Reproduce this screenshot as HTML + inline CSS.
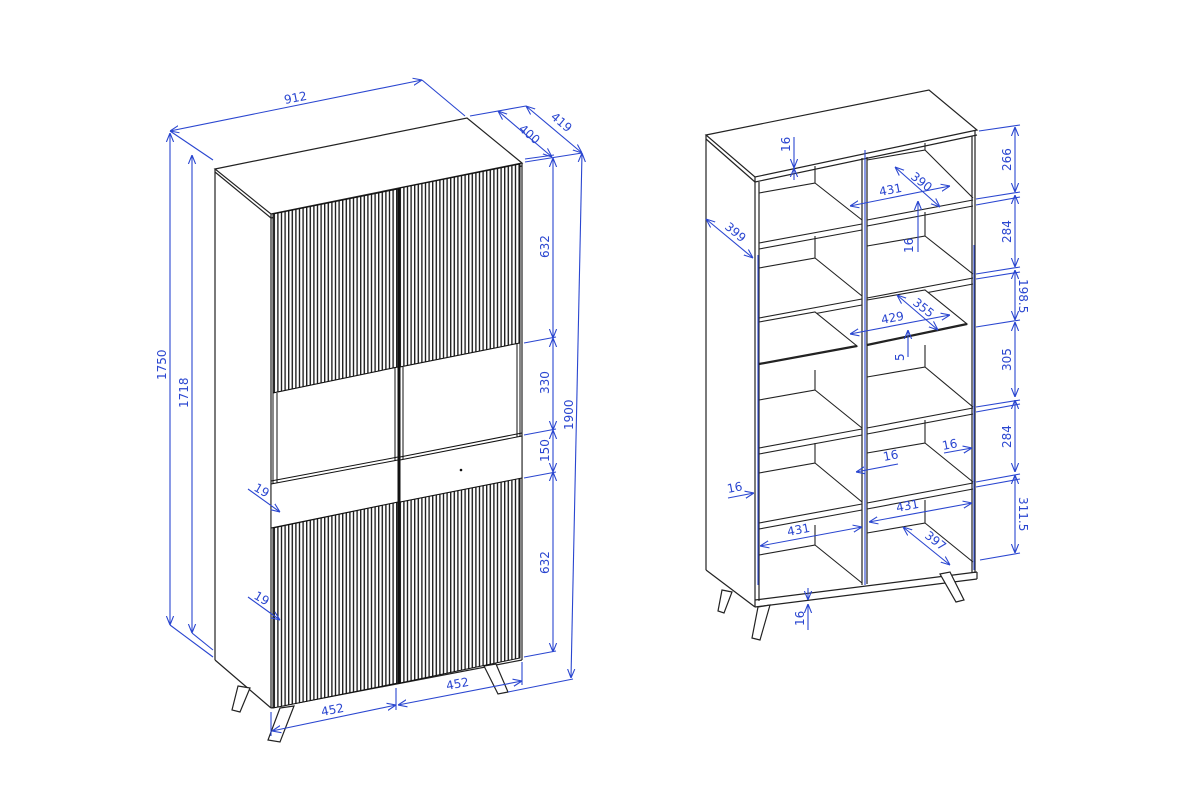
<!DOCTYPE html>
<html><head><meta charset="utf-8"><style>
html,body{margin:0;padding:0;background:#fff;width:1200px;height:792px;overflow:hidden}
svg text{font-family:"DejaVu Sans","Liberation Sans",sans-serif;font-size:12px;fill:#2a46d0}
</style></head><body>
<svg width="1200" height="792" viewBox="0 0 1200 792" xmlns="http://www.w3.org/2000/svg">
<defs>
<pattern id="fl" width="3.6" height="10" patternUnits="userSpaceOnUse">
<rect width="3.6" height="10" fill="#fff"/><rect x="0" width="1.4" height="10" fill="#222"/>
</pattern>
<marker id="a" viewBox="0 0 10 10" refX="10" refY="5" markerWidth="9" markerHeight="9" orient="auto-start-reverse" markerUnits="userSpaceOnUse">
<path d="M0,1 L10,5 L0,9" fill="none" stroke="#2a46d0" stroke-width="1.2"/></marker>
</defs>

<!-- LEFT CABINET -->
<g stroke="#222" stroke-width="1.2" fill="none">
<polygon points="215,169 467,118 522,163 271,214" fill="#fff"/>
<line x1="215" y1="172" x2="271" y2="218"/>
<line x1="271" y1="218" x2="522" y2="166"/>
<line x1="215" y1="169" x2="215" y2="660"/>
<line x1="215" y1="660" x2="271" y2="708"/>
<line x1="271" y1="214" x2="271" y2="708"/>
<line x1="522" y1="163" x2="522" y2="660"/>
<line x1="271" y1="708" x2="522" y2="660"/>
<polygon points="238,686 250,688 240,712 232,710" fill="#fff"/>
<polygon points="280,708 294,706 280,742 268,740" fill="#fff"/>
<polygon points="484,666 496,664 508,692 498,694" fill="#fff"/>
</g>
<g stroke="#111" stroke-width="1">
<polygon points="273,214 398,189 398,367 273,393" fill="url(#fl)"/>
<polygon points="400,188 520,164 520,343 400,367" fill="url(#fl)"/>
<polygon points="273,528 398,502 398,683 273,708" fill="url(#fl)"/>
<polygon points="400,502 520,478 520,658 400,683" fill="url(#fl)"/>
<polygon points="273,393 398,367 398,462 273,484" fill="#fff"/>
<polygon points="400,367 520,343 520,437 400,462" fill="#fff"/>
<line x1="277" y1="393" x2="277" y2="484"/><line x1="395" y1="368" x2="395" y2="462"/>
<line x1="403" y1="367" x2="403" y2="462"/><line x1="517" y1="344" x2="517" y2="437"/>
<polygon points="271,484 398,460 398,502 271,528" fill="#fff"/>
<polygon points="400,460 522,436 522,478 400,502" fill="#fff"/>
<line x1="271" y1="481" x2="398" y2="457"/><line x1="400" y1="457" x2="522" y2="433"/>
<line x1="399" y1="188" x2="399" y2="684" stroke-width="2"/>
</g>
<circle cx="461" cy="470" r="1.3" fill="#111"/>

<g stroke="#2a46d0" stroke-width="1.1" fill="none">
<line x1="170" y1="131" x2="422" y2="80" marker-start="url(#a)" marker-end="url(#a)"/>
<line x1="170" y1="131" x2="213" y2="160"/><line x1="422" y1="80" x2="465" y2="116"/>
<line x1="470" y1="116" x2="526" y2="106"/>
<line x1="498" y1="111" x2="552" y2="157" marker-start="url(#a)" marker-end="url(#a)"/>
<line x1="526" y1="106" x2="582" y2="153" marker-start="url(#a)" marker-end="url(#a)"/>
<line x1="525" y1="162" x2="582" y2="153"/><line x1="525" y1="159" x2="554" y2="155"/>
<line x1="170" y1="133" x2="170" y2="625" marker-start="url(#a)" marker-end="url(#a)"/>
<line x1="170" y1="625" x2="213" y2="657"/>
<line x1="192" y1="155" x2="192" y2="633" marker-start="url(#a)" marker-end="url(#a)"/>
<line x1="192" y1="633" x2="213" y2="650"/>
<line x1="553" y1="158" x2="553" y2="338" marker-start="url(#a)" marker-end="url(#a)"/>
<line x1="553" y1="338" x2="553" y2="430" marker-start="url(#a)" marker-end="url(#a)"/>
<line x1="553" y1="430" x2="553" y2="472" marker-start="url(#a)" marker-end="url(#a)"/>
<line x1="553" y1="472" x2="553" y2="652" marker-start="url(#a)" marker-end="url(#a)"/>
<line x1="524" y1="343" x2="556" y2="337"/><line x1="524" y1="435" x2="556" y2="429"/>
<line x1="524" y1="478" x2="556" y2="472"/><line x1="524" y1="657" x2="556" y2="651"/>
<line x1="582" y1="153" x2="571" y2="678" marker-start="url(#a)" marker-end="url(#a)"/>
<line x1="508" y1="692" x2="573" y2="679"/>
<line x1="272" y1="731" x2="396" y2="705" marker-start="url(#a)" marker-end="url(#a)"/>
<line x1="398" y1="705" x2="522" y2="681" marker-start="url(#a)" marker-end="url(#a)"/>
<line x1="396" y1="688" x2="396" y2="710"/><line x1="522" y1="662" x2="522" y2="685"/>
<line x1="271" y1="712" x2="271" y2="736"/>
<line x1="248" y1="489" x2="280" y2="512" marker-end="url(#a)"/>
<line x1="248" y1="597" x2="280" y2="620" marker-end="url(#a)"/>
</g>
<text x="285" y="104" transform="rotate(-11 285 104)">912</text>
<text x="518" y="130" transform="rotate(40 518 130)">400</text>
<text x="550" y="118" transform="rotate(40 550 118)">419</text>
<text x="166" y="380" transform="rotate(-90 166 380)">1750</text>
<text x="188" y="408" transform="rotate(-90 188 408)">1718</text>
<text x="549" y="258" transform="rotate(-90 549 258)">632</text>
<text x="549" y="394" transform="rotate(-90 549 394)">330</text>
<text x="549" y="462" transform="rotate(-90 549 462)">150</text>
<text x="549" y="574" transform="rotate(-90 549 574)">632</text>
<text x="573" y="430" transform="rotate(-90 573 430)">1900</text>
<text x="322" y="716" transform="rotate(-11 322 716)">452</text>
<text x="447" y="690" transform="rotate(-11 447 690)">452</text>
<text x="253" y="490" transform="rotate(30 253 490)">19</text>
<text x="253" y="598" transform="rotate(30 253 598)">19</text>

<!-- RIGHT SHELF UNIT -->
<g stroke="#222" stroke-width="1.2" fill="none">
<polygon points="706,135 929,90 977,130 755,177" fill="#fff"/>
<line x1="706" y1="139" x2="755" y2="182"/><line x1="755" y1="182" x2="977" y2="135"/>
<line x1="706" y1="135" x2="706" y2="570"/>
<line x1="706" y1="570" x2="755" y2="607"/>
<line x1="755" y1="177" x2="755" y2="607"/>
<line x1="759" y1="182" x2="759" y2="601"/>
<line x1="975" y1="131" x2="975" y2="573"/><line x1="972" y1="136" x2="972" y2="573"/>
<line x1="862" y1="158" x2="862" y2="585"/><line x1="867" y1="157" x2="867" y2="584"/>
<line x1="755" y1="600" x2="977" y2="572"/><line x1="755" y1="607" x2="977" y2="579"/>
<line x1="977" y1="572" x2="977" y2="579"/>
<polygon points="722,590 732,592 724,613 718,611" fill="#fff"/>
<polygon points="758,607 770,605 760,640 752,638" fill="#fff"/>
<polygon points="940,574 950,572 964,600 956,602" fill="#fff"/>
</g>
<g stroke="#222" stroke-width="1.1" fill="none">
<path d="M759,193 L815,183 L815,166 M815,183 L862,220"/>
<path d="M759,243 L862,224 M759,249 L862,230"/>
<path d="M759,268 L815,258 L815,236 M815,258 L862,296"/>
<path d="M759,318 L862,299 M759,324 L862,305"/>
<path d="M759,322 L815,312 L857,346 L759,364 Z" fill="#fff"/>
<path d="M759,364 L857,346" stroke-width="2.2"/>
<path d="M759,400 L815,390 L815,370 M815,390 L862,428"/>
<path d="M759,448 L862,429 M759,454 L862,435"/>
<path d="M759,473 L815,463 L815,443 M815,463 L862,502"/>
<path d="M759,523 L862,504 M759,529 L862,510"/>
<path d="M759,555 L815,545 L815,525 M815,545 L862,583"/>
<path d="M867,160 L925,150 L925,143 M925,150 L973,198"/>
<path d="M867,220 L973,200 M867,226 L973,206"/>
<path d="M867,246 L925,236 L925,212 M925,236 L973,274"/>
<path d="M867,298 L973,278 M867,304 L973,284"/>
<path d="M867,300 L925,290 L967,324 L867,345 Z" fill="#fff"/>
<path d="M867,345 L967,324" stroke-width="2.2"/>
<path d="M867,377 L925,367 L925,345 M925,367 L973,407"/>
<path d="M867,428 L973,408 M867,434 L973,414"/>
<path d="M867,453 L925,443 L925,420 M925,443 L973,482"/>
<path d="M867,503 L973,483 M867,509 L973,489"/>
<path d="M867,533 L925,523 L925,500 M925,523 L973,562"/>
</g>
<g stroke="#2a46d0" stroke-width="1.1" fill="none">
<line x1="758" y1="255" x2="758" y2="585"/><line x1="865" y1="150" x2="865" y2="585"/><line x1="974" y1="245" x2="974" y2="570"/>
<line x1="1015" y1="127" x2="1015" y2="192" marker-start="url(#a)" marker-end="url(#a)"/>
<line x1="1015" y1="195" x2="1015" y2="267" marker-start="url(#a)" marker-end="url(#a)"/>
<line x1="1015" y1="270" x2="1015" y2="320" marker-start="url(#a)" marker-end="url(#a)"/>
<line x1="1015" y1="322" x2="1015" y2="397" marker-start="url(#a)" marker-end="url(#a)"/>
<line x1="1015" y1="400" x2="1015" y2="472" marker-start="url(#a)" marker-end="url(#a)"/>
<line x1="1015" y1="475" x2="1015" y2="553" marker-start="url(#a)" marker-end="url(#a)"/>
<line x1="979" y1="131" x2="1020" y2="125"/>
<line x1="976" y1="199" x2="1020" y2="192"/><line x1="976" y1="205" x2="1020" y2="197"/>
<line x1="976" y1="274" x2="1020" y2="267"/><line x1="976" y1="279" x2="1020" y2="272"/>
<line x1="976" y1="327" x2="1020" y2="320"/>
<line x1="976" y1="407" x2="1020" y2="400"/><line x1="976" y1="412" x2="1020" y2="404"/>
<line x1="976" y1="482" x2="1020" y2="474"/><line x1="976" y1="487" x2="1020" y2="479"/>
<line x1="980" y1="560" x2="1020" y2="553"/>
<line x1="794" y1="137" x2="794" y2="168" marker-end="url(#a)"/><line x1="794" y1="180" x2="794" y2="168" marker-end="url(#a)"/>
<line x1="895" y1="167" x2="940" y2="207" marker-start="url(#a)" marker-end="url(#a)"/>
<line x1="850" y1="206" x2="950" y2="186" marker-start="url(#a)" marker-end="url(#a)"/>
<line x1="918" y1="252" x2="918" y2="201" marker-end="url(#a)"/>
<line x1="706" y1="219" x2="753" y2="258" marker-start="url(#a)" marker-end="url(#a)"/>
<line x1="897" y1="295" x2="938" y2="330" marker-start="url(#a)" marker-end="url(#a)"/>
<line x1="850" y1="334" x2="950" y2="315" marker-start="url(#a)" marker-end="url(#a)"/>
<line x1="908" y1="357" x2="908" y2="330" marker-end="url(#a)"/>
<line x1="728" y1="498" x2="754" y2="493" marker-end="url(#a)"/>
<line x1="898" y1="464" x2="856" y2="472" marker-end="url(#a)"/>
<line x1="944" y1="453" x2="972" y2="448" marker-end="url(#a)"/>
<line x1="760" y1="546" x2="862" y2="527" marker-start="url(#a)" marker-end="url(#a)"/>
<line x1="869" y1="522" x2="972" y2="503" marker-start="url(#a)" marker-end="url(#a)"/>
<line x1="903" y1="527" x2="950" y2="565" marker-start="url(#a)" marker-end="url(#a)"/>
<line x1="808" y1="630" x2="808" y2="604" marker-end="url(#a)"/><line x1="808" y1="588" x2="808" y2="600" marker-end="url(#a)"/>
</g>
<text x="790" y="152" transform="rotate(-90 790 152)">16</text>
<text x="1011" y="171" transform="rotate(-90 1011 171)">266</text>
<text x="1011" y="243" transform="rotate(-90 1011 243)">284</text>
<text x="1019" y="279" transform="rotate(90 1019 279)">198.5</text>
<text x="1011" y="371" transform="rotate(-90 1011 371)">305</text>
<text x="1011" y="448" transform="rotate(-90 1011 448)">284</text>
<text x="1019" y="497" transform="rotate(90 1019 497)">311.5</text>
<text x="910" y="178" transform="rotate(38 910 178)">390</text>
<text x="880" y="196" transform="rotate(-11 880 196)">431</text>
<text x="913" y="253" transform="rotate(-90 913 253)">16</text>
<text x="724" y="228" transform="rotate(40 724 228)">399</text>
<text x="912" y="304" transform="rotate(38 912 304)">355</text>
<text x="882" y="324" transform="rotate(-11 882 324)">429</text>
<text x="904" y="361" transform="rotate(-90 904 361)">5</text>
<text x="728" y="493" transform="rotate(-11 728 493)">16</text>
<text x="884" y="461" transform="rotate(-11 884 461)">16</text>
<text x="943" y="450" transform="rotate(-11 943 450)">16</text>
<text x="788" y="536" transform="rotate(-11 788 536)">431</text>
<text x="897" y="512" transform="rotate(-11 897 512)">431</text>
<text x="924" y="537" transform="rotate(38 924 537)">397</text>
<text x="804" y="626" transform="rotate(-90 804 626)">16</text>
</svg>
</body></html>
